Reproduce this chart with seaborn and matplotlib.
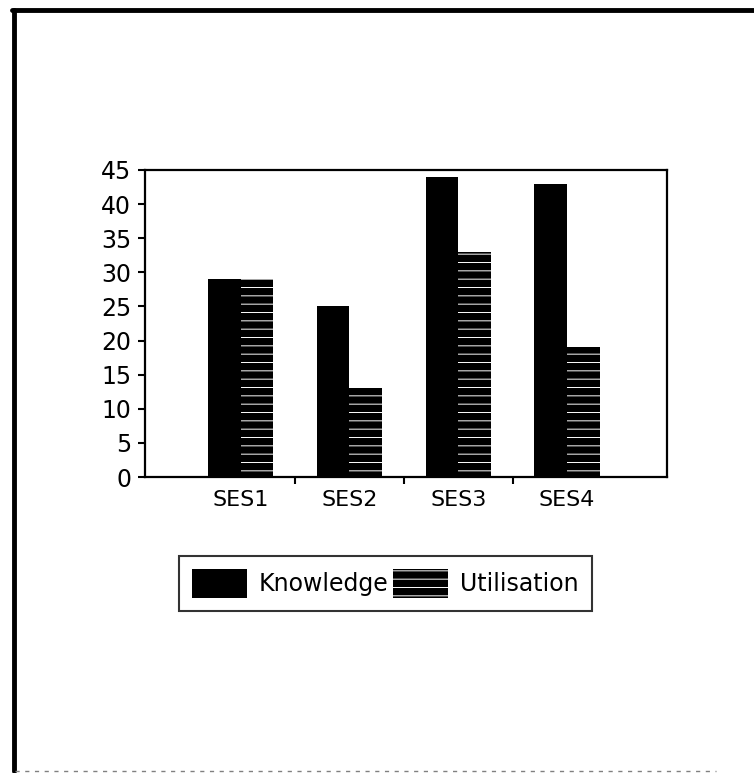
import matplotlib
matplotlib.use("Agg")
import matplotlib.pyplot as plt
from matplotlib.lines import Line2D
import seaborn as sns
import pandas as pd

categories = ["SES1", "SES2", "SES3", "SES4"]
knowledge = [29, 25, 44, 43]
utilisation = [29, 13, 33, 19]
series_names = ["Knowledge", "Utilisation"]
y_ticks = [0, 5, 10, 15, 20, 25, 30, 35, 40, 45]

df = pd.DataFrame({
    "group": categories * 2,
    "series": [series_names[0]] * len(categories) + [series_names[1]] * len(categories),
    "value": knowledge + utilisation,
})

sns.set_style("white")
plt.rcParams["font.family"] = ["DejaVu Sans"]
plt.rcParams["hatch.linewidth"] = 0.7
plt.rcParams["text.color"] = "black"
plt.rcParams["xtick.color"] = "black"
plt.rcParams["ytick.color"] = "black"

fig = plt.figure(figsize=(7.54, 7.73), dpi=100)
ax = fig.add_axes([0.1923, 0.3829, 0.6923, 0.3972])

sns.barplot(data=df, x="group", y="value", hue="series", order=categories,
            hue_order=series_names, palette=["black", "black"], width=0.6,
            saturation=1, ax=ax, legend=False, errorbar=None)

# second series: black bars with thin white horizontal line fill
n = len(categories)
for i, bar in enumerate(ax.patches[:2 * n]):
    if i >= n:
        bar.set_hatch("--")
        bar.set_edgecolor("white")
        bar.set_linewidth(0)
    else:
        bar.set_edgecolor("black")
        bar.set_linewidth(0)

ax.set_xlim(-0.88, 3.92)
ax.set_ylim(0, 45)
ax.set_yticks(y_ticks)
ax.set_xlabel("")
ax.set_ylabel("")

# category labels under the bars, tick marks between the groups
ax.set_xticks([0.5, 1.5, 2.5])
ax.set_xticklabels([])
ax.set_xticks(range(n), minor=True)
ax.set_xticklabels(categories, minor=True, fontsize=16)
ax.tick_params(axis="x", which="minor", length=0, pad=9)
ax.tick_params(axis="x", which="major", direction="out", length=5, width=1.5,
               color="black", bottom=True)
ax.tick_params(axis="y", direction="out", length=5, width=1.5, color="black",
               left=True, labelsize=17, pad=5)

for s in ax.spines.values():
    s.set_visible(True)
    s.set_color("black")
    s.set_linewidth(1.6)

handles = [plt.Rectangle((0, 0), 1, 1, facecolor="black", edgecolor="black", linewidth=0),
           plt.Rectangle((0, 0), 1, 1, facecolor="black", edgecolor="white",
                         linewidth=0, hatch="--")]
leg = fig.legend(handles, series_names, loc="center", bbox_to_anchor=(0.511, 0.245),
                 bbox_transform=fig.transFigure, ncol=2, fontsize=17,
                 handlelength=2.33, handleheight=1.52, handletextpad=0.5,
                 columnspacing=0.2, borderpad=0.55, borderaxespad=0,
                 fancybox=False, frameon=True)
leg.get_frame().set_edgecolor("black")
leg.get_frame().set_linewidth(1.5)

# page frame
fig.add_artist(Line2D([0.016, 1.0], [0.987, 0.987], color="black", lw=3.5,
                      transform=fig.transFigure))
fig.add_artist(Line2D([0.0186, 0.0186], [0.987, 0.003], color="black", lw=3.5,
                      transform=fig.transFigure))
fig.add_artist(Line2D([0.02, 0.95], [0.003, 0.003], color="gray", lw=1,
                      ls=(0, (3, 4)), transform=fig.transFigure))

fig.savefig("out.png", dpi=100, facecolor="white")
